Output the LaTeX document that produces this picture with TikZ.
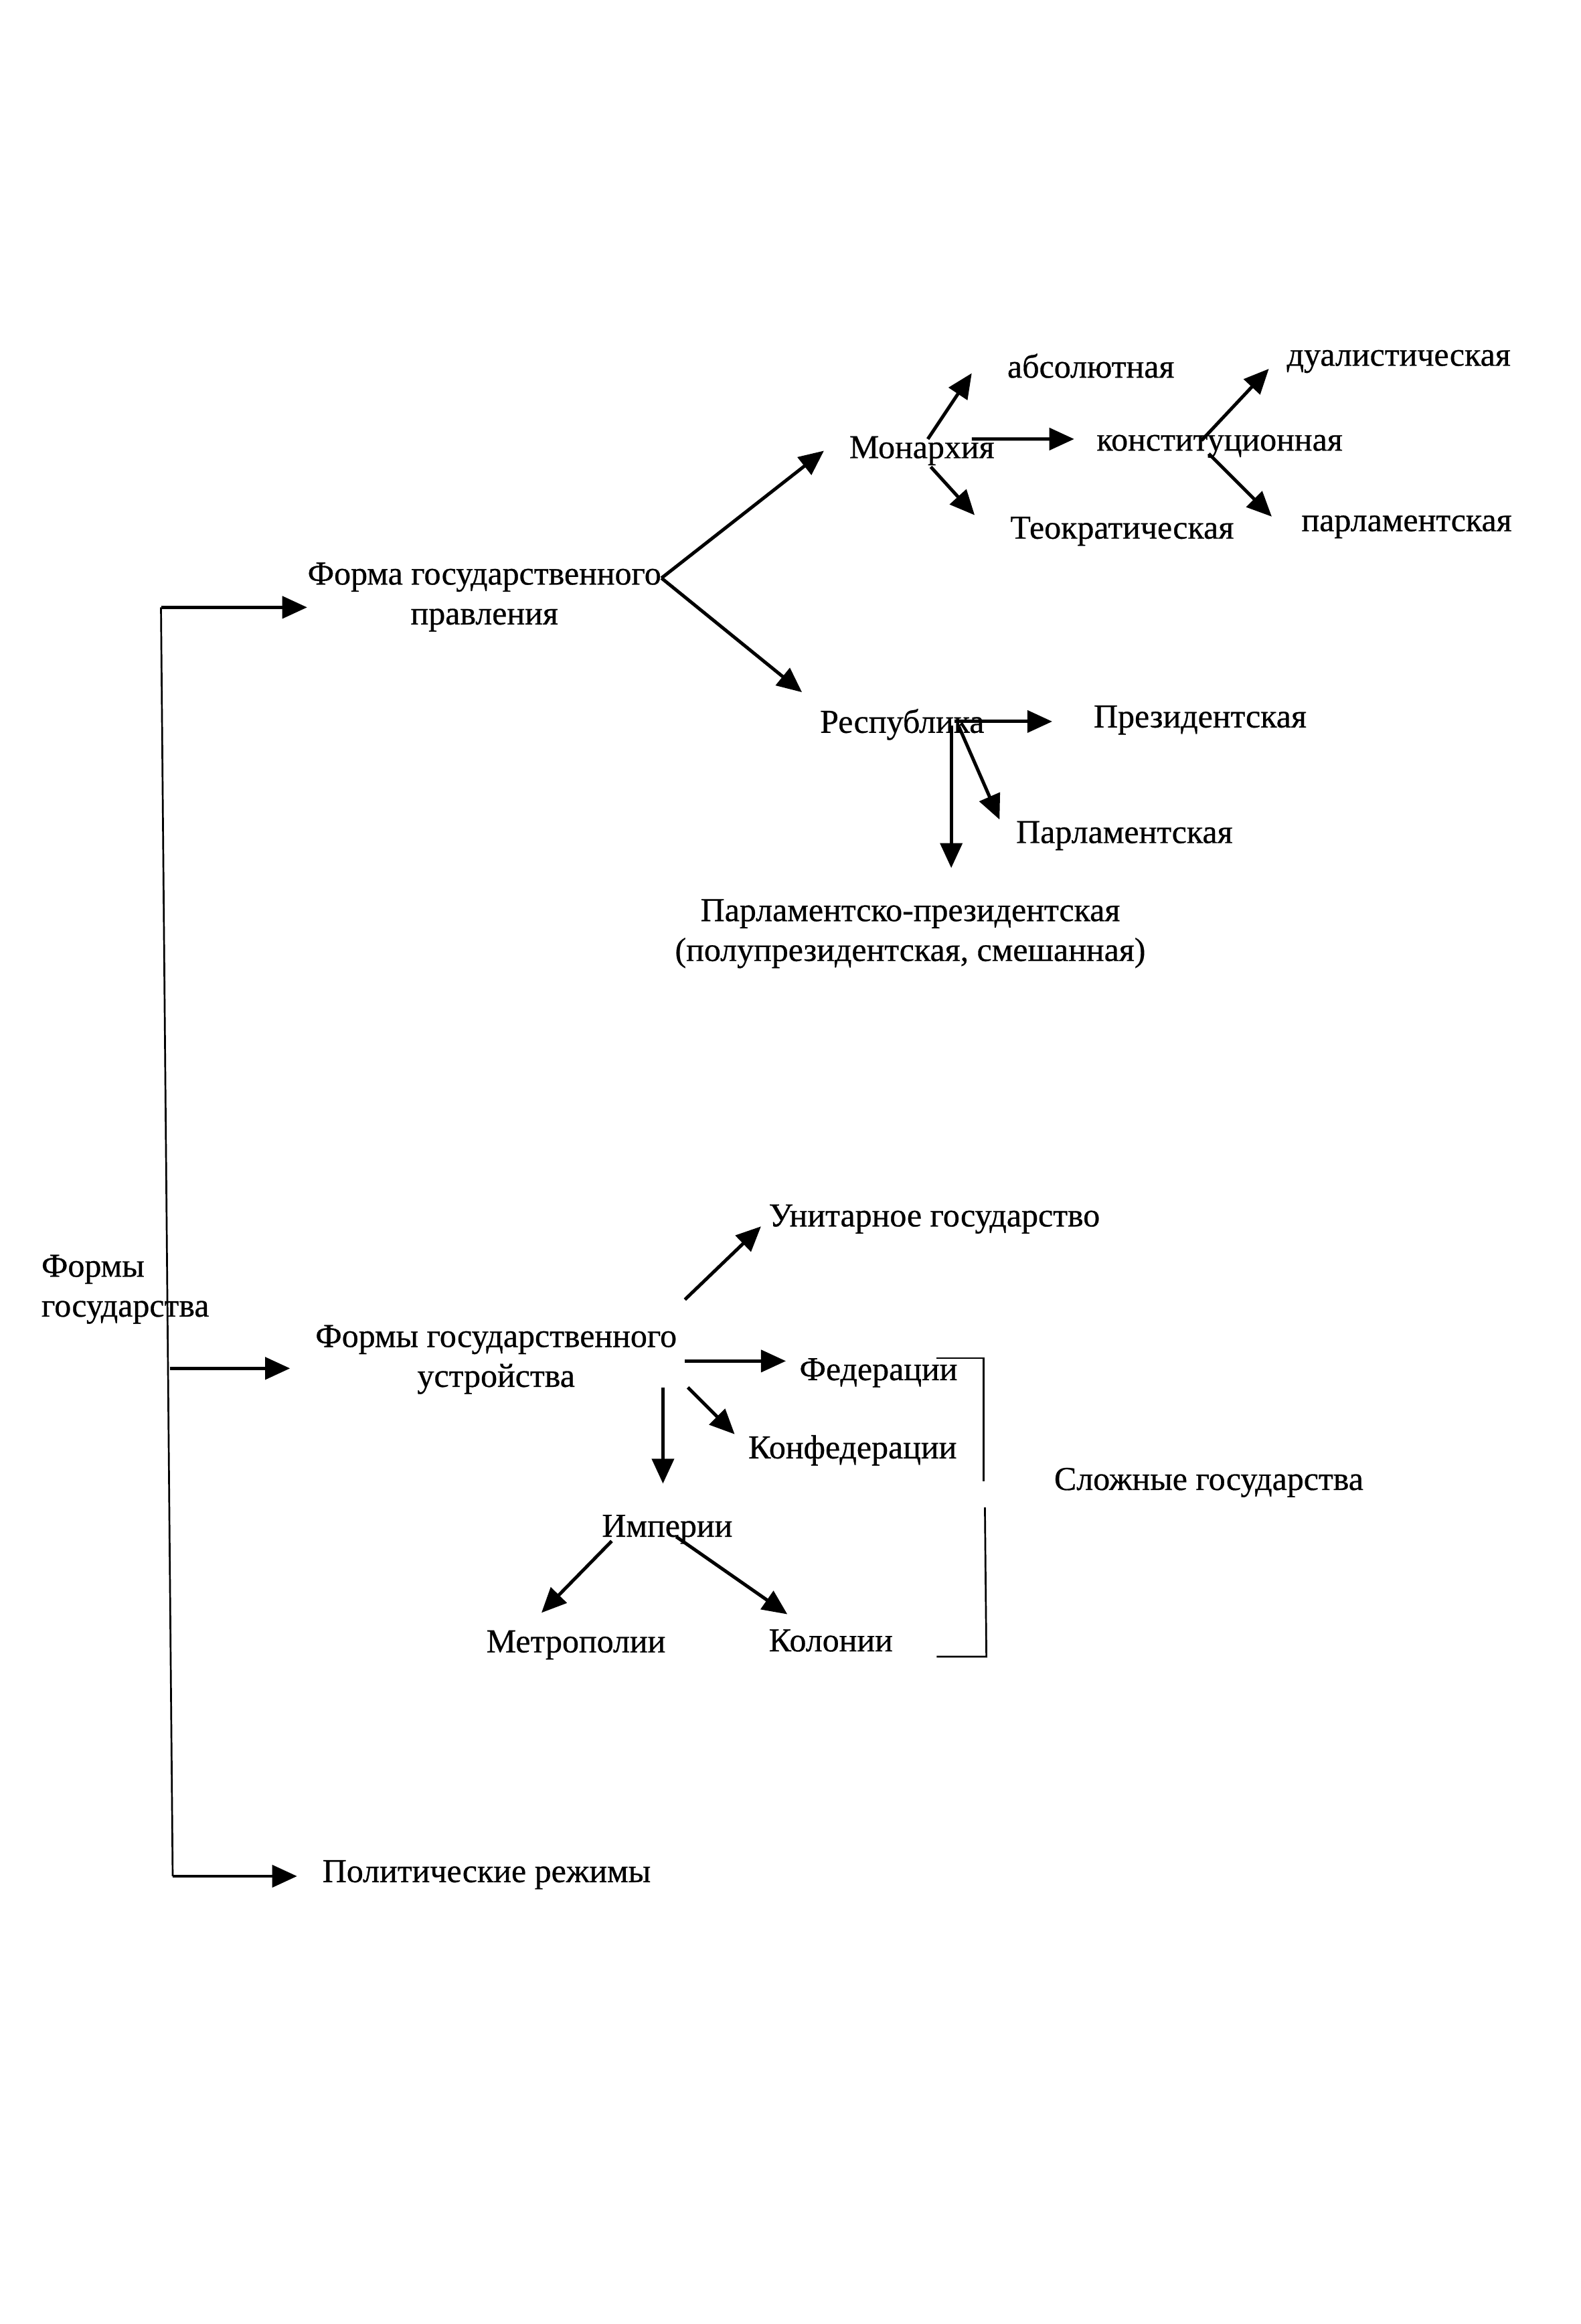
\documentclass[tikz,border=0pt]{standalone}
\usepackage{fontspec}
\setmainfont{Liberation Serif}[FakeBold=0.6]
\usetikzlibrary{arrows.meta}
\begin{document}
\begin{tikzpicture}[x=0.2mm, y=-0.2mm,
  every node/.style={inner sep=0pt, anchor=west, align=left, font=\fontsize{13}{15.5}\selectfont},
  arr/.style={line width=1.3pt, -{Triangle[length=3.4mm, width=3mm]}},
  trunk/.style={line width=0.7pt}]
  \useasboundingbox (0,0) rectangle (1080,1588);
  \node (forms) at (28,881) {Формы\\государства};
  \node (fgp) [anchor=center, align=center] at (331,408) {Форма государственного\\правления};
  \node (mon) at (580,308) {Монархия};
  \node (abs) at (688,250) {абсолютная};
  \node (const) at (749,305) {конституционная};
  \node (teo) at (690,363) {Теократическая};
  \node (dual) at (879,247) {дуалистическая};
  \node (parl) at (889,360) {парламентская};
  \node (rep) at (560,495) {Республика};
  \node (pres) at (747,492) {Президентская};
  \node (rparl) at (694,571) {Парламентская};
  \node (mixed) [anchor=center, align=center] at (622,638) {Парламентско-президентская\\(полупрезидентская, смешанная)};
  \node (fgu) [anchor=center, align=center] at (339,929) {Формы государственного\\устройства};
  \node (unit) at (525,833) {Унитарное государство};
  \node (fed) at (546,938) {Федерации};
  \node (conf) at (511,991) {Конфедерации};
  \node (emp) at (411,1045) {Империи};
  \node (metro) at (332,1124) {Метрополии};
  \node (col) at (525,1121) {Колонии};
  \node (compl) at (720,1013) {Сложные государства};
  \node (reg) at (220,1281) {Политические режимы};

  \coordinate (ttop) at (110,415);
  \coordinate (tmid) at (116,935);
  \coordinate (tbot) at (118,1282);
  \coordinate (gfork) at (452,395);
  \coordinate (mup) at (634,300);
  \coordinate (mright) at (664,300);
  \coordinate (mdown) at (636,319);
  \coordinate (cup) at (821,301);
  \coordinate (cdown) at (826,310);
  \coordinate (rh) at (652,493);
  \coordinate (rd) at (650,496);
  \coordinate (rs) at (655,496);
  \coordinate (uf) at (468,888);
  \coordinate (ff) at (468,930);
  \coordinate (cf) at (470,948);
  \coordinate (ef) at (453,948);
  \coordinate (el) at (418,1053);
  \coordinate (er) at (462,1050);

  \draw[trunk] (ttop) -- (tbot);
  \draw[arr] (ttop) -- (ttop -| fgp.west);
  \draw[arr, shorten >=3.4mm] (tmid) -- (tmid -| fgu.west);
  \draw[arr, shorten >=3.4mm] (tbot) -- (tbot -| reg.west);

  \draw[arr] (gfork) -- ([xshift=-3.4mm]mon.west);
  \draw[arr] (gfork) -- ([shift={(-2.4mm,4.4mm)}]rep.west);

  \draw[arr] (mup) -- ([shift={(-4.8mm,-1mm)}]abs.west);
  \draw[arr] (mright) -- ([shift={(-3mm,1mm)}]const.west);
  \draw[arr] (mdown) -- ([shift={(-4.8mm,2.2mm)}]teo.west);
  \draw[arr] (cup) -- ([shift={(-2.4mm,-1mm)}]dual.west);
  \draw[arr] (cdown) -- ([shift={(-4mm,1.4mm)}]parl.west);

  \draw[arr, shorten >=5.6mm] (rh) -- (rh -| pres.west);
  \draw[arr] (rs) -- ([shift={(-2.2mm,2.2mm)}]rparl.west);
  \draw[arr, shorten >=4.2mm] (rd) -- (rd |- mixed.north);

  \draw[arr] (uf) -- ([shift={(-1mm,-1mm)}]unit.west);
  \draw[arr, shorten >=1.8mm] (ff) -- (ff -| fed.west);
  \draw[arr] (cf) -- ([shift={(-1.8mm,2.2mm)}]conf.west);
  \draw[arr, shorten >=4.2mm] (ef) -- (ef |- emp.north);
  \draw[arr] (el) -- ([shift={(7.6mm,4.4mm)}]metro.west);
  \draw[arr] (er) -- ([shift={(2.6mm,3.6mm)}]col.west);

  \draw[trunk] (640,928) -- (672,928) -- (672,1012);
  \draw[trunk] (673,1030) -- (674,1132) -- (640,1132);
\end{tikzpicture}
\end{document}
